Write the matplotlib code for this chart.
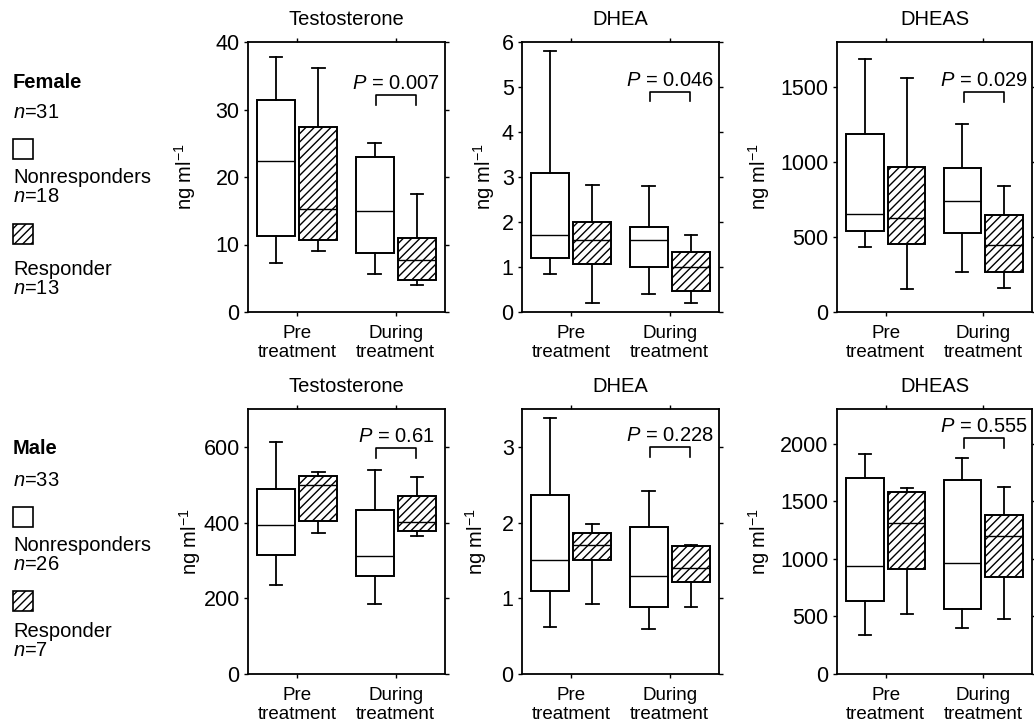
import matplotlib
matplotlib.use("Agg")
import matplotlib.pyplot as plt
from matplotlib.patches import Rectangle

plt.rcParams['font.family'] = ['Liberation Sans', 'DejaVu Sans']
plt.rcParams['mathtext.fontset'] = 'custom'
plt.rcParams['mathtext.rm'] = 'Liberation Sans'
plt.rcParams['mathtext.it'] = 'Liberation Sans:italic'
plt.rcParams['hatch.linewidth'] = 1.0

# box stats per group: [whislo, q1, median, q3, whishi]
# order: pre nonresp, pre resp, during nonresp, during resp
f_testo = [[7.2, 11.2, 22.4, 31.4, 37.8], [9.0, 10.7, 15.2, 27.4, 36.1],
           [5.7, 8.8, 14.9, 23.0, 25.1], [4.0, 4.8, 7.7, 11.0, 17.5]]
f_dhea = [[0.84, 1.20, 1.72, 3.09, 5.80], [0.20, 1.07, 1.59, 2.00, 2.82],
          [0.41, 1.01, 1.59, 1.88, 2.81], [0.20, 0.47, 1.01, 1.33, 1.72]]
f_dheas = [[431, 543, 655, 1185, 1688], [156, 454, 626, 968, 1560],
           [268, 525, 738, 957, 1252], [163, 264, 449, 644, 838]]
m_testo = [[234, 314, 393, 488, 614], [372, 403, 500, 524, 534],
           [184, 260, 313, 432, 540], [364, 377, 402, 469, 520]]
m_dhea = [[0.62, 1.10, 1.50, 2.36, 3.38], [0.93, 1.50, 1.70, 1.86, 1.98],
          [0.60, 0.89, 1.30, 1.94, 2.42], [0.88, 1.22, 1.40, 1.69, 1.71]]
m_dheas = [[342, 631, 935, 1702, 1913], [524, 915, 1311, 1577, 1615],
           [399, 564, 964, 1682, 1876], [478, 839, 1201, 1378, 1624]]

titles = ['Testosterone', 'DHEA', 'DHEAS']
p_values = ['0.007', '0.046', '0.029', '0.61', '0.228', '0.555']
# bracket top / leg bottom in data units
brackets = [(32.1, 30.7), (4.88, 4.68), (1464, 1397),
            (597, 570), (3.0, 2.87), (2046, 1959)]
ylims = [40, 6, 1800, 700, 3.5, 2300]
yticks = [[0, 10, 20, 30, 40], [0, 1, 2, 3, 4, 5, 6], [0, 500, 1000, 1500],
          [0, 200, 400, 600], [0, 1, 2, 3], [0, 500, 1000, 1500, 2000]]
xlabels = ['Pre\ntreatment', 'During\ntreatment']

female_legend = ['Female', '$n$=31', 'Nonresponders\n$n$=18', 'Responder\n$n$=13']
male_legend = ['Male', '$n$=33', 'Nonresponders\n$n$=26', 'Responder\n$n$=7']

data = [f_testo, f_dhea, f_dheas, m_testo, m_dhea, m_dheas]

W, H = 1034, 728
fig = plt.figure(figsize=(W / 100, H / 100), dpi=100)

col_px = [(248, 197), (522, 197), (837, 195)]
row_px = [(42, 312), (409, 674)]
label_x = [-0.255, -0.125, -0.335, -0.23, -0.17, -0.335]

positions = [1 - 0.43, 1 + 0.43, 3 - 0.43, 3 + 0.43]

for i, groups in enumerate(data):
    r, c = divmod(i, 3)
    left, width = col_px[c]
    top, bottom = row_px[r]
    ax = fig.add_axes([left / W, 1 - bottom / H, width / W, (bottom - top) / H])

    stats = []
    for g in groups:
        stats.append(dict(whislo=g[0], q1=g[1], med=g[2], q3=g[3], whishi=g[4]))
    bp = ax.bxp(stats, positions=positions, widths=0.77, capwidths=0.25,
                patch_artist=True, showfliers=False,
                boxprops=dict(edgecolor='black', linewidth=1.4),
                medianprops=dict(color='black', linewidth=1.0),
                whiskerprops=dict(color='black', linewidth=1.3),
                capprops=dict(color='black', linewidth=1.3))
    for j, box in enumerate(bp['boxes']):
        box.set_facecolor('white')
        if j % 2 == 1:
            box.set_hatch('////')

    btop, bbot = brackets[i]
    ax.plot([2.6, 2.6, 3.42, 3.42], [bbot, btop, btop, bbot], color='black', lw=1.2)
    ax.annotate('$P$ = ' + p_values[i], xy=(3.01, btop), xytext=(0, 1.5),
                textcoords='offset points', ha='center', va='bottom', fontsize=14.5)

    ax.set_xlim(0, 4)
    ax.set_ylim(0, ylims[i])
    ax.set_yticks(yticks[i])
    ax.set_xticks([1, 3])
    ax.set_xticklabels(xlabels, fontsize=13.5, linespacing=1.2)
    ax.tick_params(axis='y', labelsize=15.5, pad=3)
    ax.tick_params(direction='out', length=3, width=1, top=True, right=True)
    ax.tick_params(axis='x', pad=6)
    for s in ax.spines.values():
        s.set_linewidth(1.3)
    ax.set_title(titles[c], fontsize=14.5, pad=12)
    ax.set_ylabel('ng ml$^{-1}$', fontsize=14.5)
    ax.yaxis.set_label_coords(label_x[i], 0.5)


def legend_block(lines, ys, sq_tops):
    x0 = 13 / W
    fig.text(x0, 1 - ys[0] / H, lines[0], fontsize=14.5, fontweight='bold', va='center')
    fig.text(x0, 1 - ys[1] / H, lines[1], fontsize=14.5, va='center')
    fig.text(x0, 1 - ys[2] / H, lines[2], fontsize=14.5, va='center', linespacing=1.05)
    fig.text(x0, 1 - ys[3] / H, lines[3], fontsize=14.5, va='center', linespacing=1.05)
    for k, t in enumerate(sq_tops):
        fig.add_artist(Rectangle((x0, 1 - (t + 20) / H), 20 / W, 20 / H,
                                 transform=fig.transFigure, facecolor='white',
                                 edgecolor='black', linewidth=1.2,
                                 hatch='////' if k == 1 else None))


legend_block(female_legend, [82, 113, 187, 279], [139, 224])
legend_block(male_legend, [449, 481, 555, 641], [507, 591])

fig.savefig('out.png', dpi=100)
